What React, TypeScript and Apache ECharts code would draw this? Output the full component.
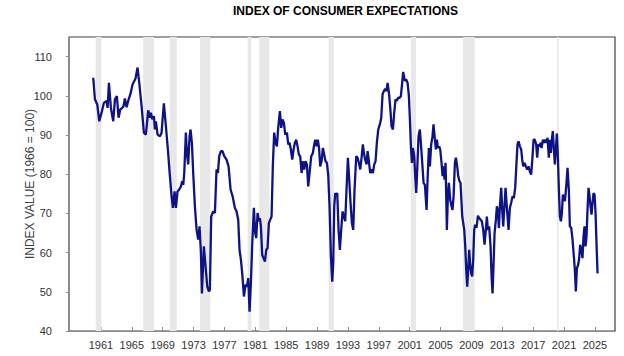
import React, { useEffect, useRef } from "react";
import * as echarts from "echarts";

const title = "INDEX OF CONSUMER EXPECTATIONS";
const yAxisTitle = "INDEX VALUE (1966 = 100)";

const xTickYears = [1961, 1965, 1969, 1973, 1977, 1981, 1985, 1989, 1993, 1997, 2001, 2005, 2009, 2013, 2017, 2021, 2025];
const yTickValues = [40, 50, 60, 70, 80, 90, 100, 110];

const recessionStart = [1960.33, 1966.48, 1969.92, 1973.83, 1980.0, 1981.5, 1990.5, 2001.17, 2007.92, 2020.08];
const recessionEnd = [1961.08, 1967.87, 1970.83, 1975.17, 1980.5, 1982.83, 1991.17, 2001.83, 2009.42, 2020.3];

const years1960s = [1960.01, 1960.23, 1960.53, 1960.79, 1961.09, 1961.39, 1961.74, 1961.87, 1962.04, 1962.3, 1962.6, 1962.82, 1963.07, 1963.29, 1963.51, 1963.77, 1963.94, 1964.11, 1964.33, 1964.54, 1964.85, 1965.1, 1965.49, 1965.75, 1965.97, 1966.27, 1966.57, 1966.83, 1967.13, 1967.35, 1967.48, 1967.65, 1967.87, 1968.0, 1968.13, 1968.34, 1968.65, 1968.86, 1969.16, 1969.42, 1969.68, 1969.94];
const values1960s = [104.6, 99.1, 97.8, 93.5, 95.7, 98.2, 98.7, 96.9, 103.3, 96.9, 93.5, 99.1, 99.9, 94.4, 96.5, 96.9, 97.4, 99.3, 97.1, 98.7, 100.6, 102.9, 104.4, 107.2, 103.3, 97.4, 90.6, 90.1, 96.3, 94.4, 95.7, 94.0, 94.8, 91.4, 93.5, 90.1, 89.7, 90.6, 98.1, 92.3, 86.3, 79.5];

const years1970s = [1970.16, 1970.33, 1970.55, 1970.72, 1970.93, 1971.15, 1971.37, 1971.54, 1971.67, 1971.8, 1972.01, 1972.14, 1972.31, 1972.49, 1972.62, 1972.79, 1972.96, 1973.18, 1973.4, 1973.61, 1973.78, 1973.96, 1974.09, 1974.34, 1974.56, 1974.78, 1974.99, 1975.12, 1975.29, 1975.55, 1975.77, 1975.98, 1976.16, 1976.33, 1976.55, 1976.76, 1976.98, 1977.28, 1977.54, 1977.8, 1978.06, 1978.36, 1978.58, 1978.79, 1978.96, 1979.14, 1979.31, 1979.53, 1979.74, 1979.91];
const values1970s = [74.4, 71.4, 75.6, 71.4, 75.6, 76.1, 76.9, 78.2, 77.3, 80.3, 90.6, 85.4, 82.5, 89.7, 91.4, 88.0, 80.3, 71.8, 65.8, 63.3, 66.7, 59.9, 49.6, 61.6, 56.5, 51.3, 50.1, 50.5, 69.2, 70.5, 70.1, 81.2, 80.3, 84.6, 85.9, 85.9, 84.6, 83.7, 82.0, 76.1, 74.4, 71.4, 70.5, 68.4, 60.7, 58.2, 54.7, 48.8, 51.8, 51.3];

const years1980s = [1980.09, 1980.26, 1980.43, 1980.61, 1980.82, 1980.99, 1981.12, 1981.3, 1981.47, 1981.6, 1981.73, 1981.9, 1982.07, 1982.25, 1982.42, 1982.59, 1982.76, 1982.94, 1983.11, 1983.28, 1983.45, 1983.63, 1983.8, 1983.97, 1984.19, 1984.36, 1984.53, 1984.71, 1984.88, 1985.1, 1985.27, 1985.44, 1985.61, 1985.79, 1985.96, 1986.13, 1986.3, 1986.48, 1986.65, 1986.82, 1987.0, 1987.17, 1987.34, 1987.51, 1987.69, 1987.86, 1988.25, 1988.46, 1988.64, 1988.77, 1988.94, 1989.11, 1989.28, 1989.41, 1989.59, 1989.76, 1989.93];
const values1980s = [53.5, 44.9, 52.2, 62.4, 71.4, 65.0, 63.7, 70.1, 68.0, 68.8, 66.7, 59.4, 58.6, 57.7, 60.7, 61.1, 67.5, 68.4, 69.2, 82.5, 90.6, 88.0, 87.1, 91.8, 96.1, 91.8, 94.0, 93.1, 90.1, 90.6, 87.6, 88.0, 86.3, 83.7, 86.3, 88.0, 88.8, 87.1, 85.0, 84.6, 80.3, 83.3, 81.2, 83.3, 82.5, 76.9, 84.6, 85.4, 87.6, 88.8, 87.1, 88.8, 86.3, 82.0, 83.3, 86.7, 85.0];

const years1990s = [1990.1, 1990.28, 1990.45, 1990.62, 1990.8, 1990.97, 1991.1, 1991.23, 1991.36, 1991.49, 1991.62, 1991.79, 1991.96, 1992.13, 1992.31, 1992.48, 1992.65, 1992.82, 1993.0, 1993.17, 1993.34, 1993.52, 1993.69, 1993.86, 1994.08, 1994.25, 1994.42, 1994.6, 1994.77, 1994.94, 1995.07, 1995.24, 1995.42, 1995.55, 1995.72, 1995.89, 1996.06, 1996.24, 1996.41, 1996.58, 1996.75, 1996.93, 1997.14, 1997.32, 1997.49, 1997.66, 1997.83, 1998.0, 1998.14, 1998.33, 1998.5, 1998.65, 1998.83, 1999.0, 1999.17, 1999.34, 1999.52, 1999.69, 1999.86];
const values1990s = [83.3, 82.9, 79.9, 71.8, 59.0, 52.6, 57.3, 71.8, 75.2, 74.8, 75.2, 65.8, 60.7, 65.8, 70.5, 69.2, 68.0, 76.1, 84.2, 78.6, 72.7, 67.5, 65.8, 76.1, 84.6, 84.2, 82.9, 81.2, 84.2, 87.6, 85.4, 83.7, 82.5, 85.9, 83.3, 80.3, 81.2, 80.3, 82.5, 83.3, 88.0, 91.4, 92.7, 94.4, 100.4, 101.2, 101.8, 101.2, 103.3, 100.5, 96.5, 92.3, 91.4, 95.7, 99.1, 98.7, 99.5, 99.5, 99.9];

const years2000s = [2000.03, 2000.16, 2000.38, 2000.55, 2000.73, 2000.9, 2001.03, 2001.16, 2001.29, 2001.42, 2001.59, 2001.72, 2001.85, 2001.98, 2002.15, 2002.32, 2002.45, 2002.63, 2002.8, 2002.97, 2003.19, 2003.32, 2003.49, 2003.62, 2003.79, 2003.96, 2004.09, 2004.27, 2004.4, 2004.53, 2004.66, 2004.83, 2004.96, 2005.13, 2005.26, 2005.39, 2005.52, 2005.65, 2005.82, 2005.95, 2006.08, 2006.25, 2006.43, 2006.55, 2006.69, 2006.86, 2006.99, 2007.16, 2007.29, 2007.46, 2007.59, 2007.72, 2007.81, 2007.94, 2008.07, 2008.2, 2008.33, 2008.455, 2008.585, 2008.71, 2008.84, 2008.97, 2009.1, 2009.23, 2009.36, 2009.49, 2009.66, 2009.84];
const values2000s = [103.3, 106.1, 103.8, 104.2, 103.3, 99.9, 94.0, 87.1, 82.9, 86.7, 84.6, 79.5, 75.2, 81.2, 89.7, 91.4, 88.0, 82.9, 77.8, 77.3, 70.9, 78.6, 86.7, 82.0, 87.6, 89.7, 92.7, 88.8, 86.3, 88.8, 86.7, 87.1, 86.3, 82.9, 79.5, 82.0, 78.6, 82.9, 65.8, 74.4, 77.8, 73.5, 71.8, 70.9, 74.4, 82.9, 84.2, 82.0, 79.5, 78.2, 77.8, 72.7, 69.2, 67.5, 65.8, 61.6, 55.6, 51.3, 55.6, 60.7, 56.9, 54.7, 53.9, 58.2, 65.8, 67.1, 66.3, 69.4];

const years2010s = [2010.01, 2010.18, 2010.35, 2010.53, 2010.7, 2010.83, 2011.0, 2011.13, 2011.3, 2011.48, 2011.61, 2011.74, 2011.87, 2012.0, 2012.17, 2012.3, 2012.43, 2012.56, 2012.69, 2012.86, 2012.99, 2013.12, 2013.25, 2013.42, 2013.55, 2013.68, 2013.81, 2013.98, 2014.15, 2014.33, 2014.5, 2014.67, 2014.84, 2014.97, 2015.1, 2015.28, 2015.45, 2015.58, 2015.71, 2015.88, 2016.05, 2016.23, 2016.4, 2016.57, 2016.74, 2016.92, 2017.05, 2017.22, 2017.39, 2017.52, 2017.65, 2017.82, 2017.95, 2018.08, 2018.26, 2018.39, 2018.56, 2018.73, 2018.86, 2019.03, 2019.16, 2019.29, 2019.42, 2019.55, 2019.68, 2019.81, 2019.94];
const values2010s = [68.8, 68.4, 68.0, 65.8, 62.0, 65.0, 69.2, 65.8, 66.7, 61.6, 53.9, 49.6, 57.3, 65.0, 68.4, 71.8, 70.5, 66.3, 71.8, 76.5, 70.9, 66.7, 70.9, 76.5, 72.7, 69.2, 65.8, 71.4, 72.7, 74.4, 73.9, 76.5, 82.9, 87.6, 88.4, 87.1, 86.3, 83.7, 82.0, 82.9, 82.0, 81.2, 82.0, 80.7, 79.9, 84.6, 88.8, 88.8, 87.6, 84.2, 87.6, 87.1, 88.0, 86.7, 88.8, 88.0, 88.8, 88.0, 89.3, 84.2, 88.8, 85.4, 88.8, 91.0, 86.3, 82.5, 86.3];

const years2020s = [2020.07, 2020.2, 2020.33, 2020.46, 2020.59, 2020.72, 2020.85, 2020.98, 2021.11, 2021.28, 2021.45, 2021.62, 2021.75, 2021.93, 2022.1, 2022.27, 2022.4, 2022.53, 2022.66, 2022.83, 2022.96, 2023.09, 2023.265, 2023.39, 2023.52, 2023.65, 2023.78, 2023.91, 2024.04, 2024.17, 2024.3, 2024.43, 2024.56, 2024.69, 2024.82, 2024.95, 2025.08, 2025.21, 2025.34];
const values2020s = [90.4, 84.6, 76.1, 69.2, 68.0, 70.1, 74.8, 73.9, 73.1, 76.9, 81.6, 76.1, 66.7, 66.3, 63.3, 59.0, 55.6, 50.1, 56.0, 56.9, 58.6, 62.0, 60.3, 58.6, 64.1, 66.7, 61.6, 64.1, 70.9, 76.5, 74.4, 71.8, 69.7, 72.7, 75.2, 74.8, 70.1, 62.0, 54.7];

const allYears = [...years1960s, ...years1970s, ...years1980s, ...years1990s, ...years2000s, ...years2010s, ...years2020s];
const allValues = [...values1960s, ...values1970s, ...values1980s, ...values1990s, ...values2000s, ...values2010s, ...values2020s];

export default function App() {
  const ref = useRef<HTMLDivElement>(null);
  useEffect(() => {
    if (!ref.current) return;
    const chart = echarts.init(ref.current, null, { renderer: "svg" });
    const font = "'Liberation Sans', Arial, sans-serif";
    chart.setOption({
      animation: false,
      backgroundColor: "#ffffff",
      title: {
        text: title,
        left: 228,
        top: 0,
        textStyle: { fontFamily: font, fontSize: 12, fontWeight: "bold", color: "#000000" },
      },
      grid: {
        left: 69,
        right: 9,
        top: 37,
        bottom: 25,
        show: true,
        borderColor: "#404040",
        borderWidth: 1.2,
        containLabel: false,
      },
      xAxis: {
        type: "value",
        min: 1956.87,
        max: 2027.6,
        splitLine: { show: false },
        axisLine: { show: true, lineStyle: { color: "#8c8c8c", width: 1 } },
        axisTick: {
          show: true,
          inside: true,
          length: 4,
          customValues: xTickYears,
          lineStyle: { color: "#8c8c8c" },
        },
        axisLabel: {
          customValues: xTickYears,
          formatter: (v: number) => String(Math.round(v)),
          fontFamily: font,
          fontSize: 11,
          color: "#333333",
          margin: 8,
        },
      },
      yAxis: {
        type: "value",
        min: 40,
        max: 115,
        name: yAxisTitle,
        nameLocation: "middle",
        nameGap: 33,
        nameMoveOverlap: false,
        nameTextStyle: { fontFamily: font, fontSize: 12, color: "#404040" },
        splitLine: { show: false },
        axisLine: { show: true, lineStyle: { color: "#8c8c8c", width: 1 } },
        axisTick: {
          show: true,
          length: 3,
          customValues: yTickValues,
          lineStyle: { color: "#8c8c8c" },
        },
        axisLabel: {
          customValues: yTickValues,
          fontFamily: font,
          fontSize: 11,
          color: "#333333",
          margin: 17,
        },
      },
      series: [
        {
          type: "line",
          data: allYears.map((y, i) => [y, allValues[i]]),
          showSymbol: false,
          lineStyle: { color: "#0e1287", width: 2.3 },
          z: 3,
          markArea: {
            silent: true,
            itemStyle: { color: "#e8e8e8" },
            data: recessionStart.map((s, i) => [{ xAxis: s }, { xAxis: recessionEnd[i] }]),
          },
        },
      ],
    });
    return () => chart.dispose();
  }, []);
  return (
    <div
      ref={ref}
      style={{ position: "fixed", left: 0, top: 0, width: 624, height: 356, background: "#fff" }}
    />
  );
}
